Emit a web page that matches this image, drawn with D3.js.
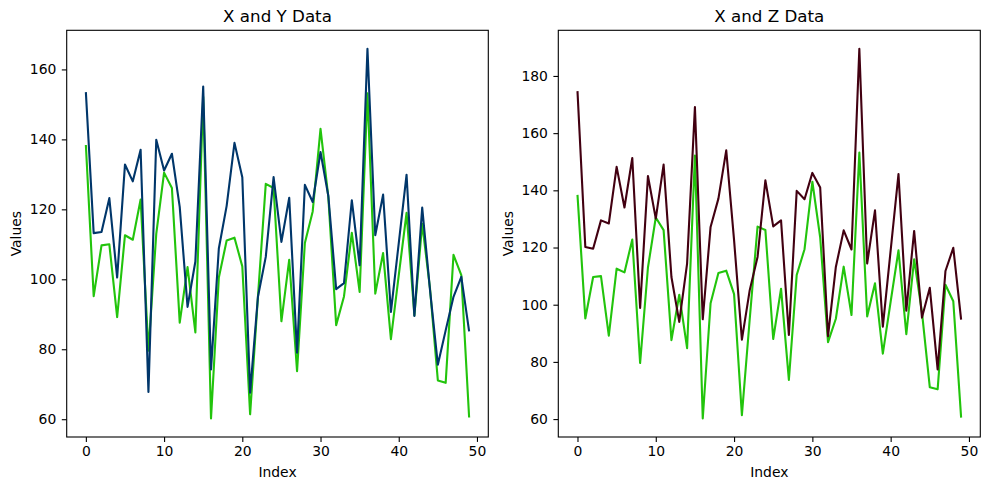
<!DOCTYPE html>
<html>
<head>
<meta charset="utf-8">
<script src="https://cdn.jsdelivr.net/npm/d3@7"></script>
<style>
  html, body { margin: 0; padding: 0; background: #fff; }
  svg { display: block; font-family: "DejaVu Sans", sans-serif; }
</style>
</head>
<body>
<svg id="chart" width="990" height="490"></svg>
<script>
// ---- Data ----
const xValues = [138.4, 95.2, 109.7, 110.0, 89.2, 112.6, 111.3, 122.8, 79.6, 113.0,
  130.5, 126.1, 87.6, 103.5, 84.8, 152.2, 60.2, 100.5, 111.1, 111.9,
  103.7, 61.4, 95.0, 127.3, 126.1, 88.0, 105.6, 73.7, 110.4, 119.4,
  143.0, 123.5, 86.9, 95.1, 113.3, 96.4, 153.2, 95.9, 107.5, 82.9,
  101.1, 119.0, 89.7, 115.9, 97.3, 71.1, 70.4, 107.0, 101.2, 60.5];
const yValues = [153.5, 113.2, 113.5, 123.2, 100.5, 132.8, 128.0, 137.0, 67.8, 139.9,
  131.1, 135.9, 120.7, 92.1, 105.1, 155.1, 74.2, 108.8, 121.0, 139.0,
  129.2, 67.6, 95.0, 106.4, 129.2, 110.7, 123.3, 79.0, 127.0, 122.1,
  136.4, 123.8, 97.2, 98.9, 122.6, 104.0, 165.9, 112.6, 124.2, 90.7,
  110.3, 129.9, 89.5, 120.5, 96.9, 75.6, 85.4, 95.0, 100.7, 85.1];
const zValues = [174.7, 120.2, 119.6, 129.5, 128.4, 148.2, 134.0, 151.3, 98.9, 145.0,
  130.1, 149.0, 109.7, 94.0, 114.4, 169.1, 94.9, 127.2, 137.1, 154.0,
  122.6, 87.8, 105.1, 116.7, 143.5, 127.4, 129.5, 89.4, 139.8, 136.9,
  146.1, 141.0, 89.0, 113.2, 126.0, 119.3, 189.5, 114.4, 133.0, 92.3,
  119.0, 145.7, 97.9, 125.8, 95.5, 105.9, 77.4, 111.8, 119.9, 94.8];
const xTicks = [0, 10, 20, 30, 40, 50];
const yTicksLeft = [60, 80, 100, 120, 140, 160];
const yTicksRight = [60, 80, 100, 120, 140, 160, 180];
const titles = ["X and Y Data", "X and Z Data"];
const colors = { x: "#22c40c", y: "#00366a", z: "#420011" };

// ---- Layout ----
const panels = [
  { left: 66.7, right: 488.3, title: titles[0], series: [[xValues, colors.x], [yValues, colors.y]], yTicks: yTicksLeft, ylabX: 21 },
  { left: 558.3, right: 980.3, title: titles[1], series: [[xValues, colors.x], [zValues, colors.z]], yTicks: yTicksRight, ylabX: 513 }
];
const plotTop = 30.3, plotBottom = 437;
const svg = d3.select("#chart");

panels.forEach(p => {
  const n = xValues.length;
  const xm = (n - 1) * 0.05;
  const x = d3.scaleLinear().domain([-xm, n - 1 + xm]).range([p.left, p.right]);
  const all = p.series.flatMap(s => s[0]);
  const lo = d3.min(all), hi = d3.max(all), pad = (hi - lo) * 0.05;
  const y = d3.scaleLinear().domain([lo - pad, hi + pad]).range([plotBottom, plotTop]);

  const g = svg.append("g");
  const line = d3.line().x((d, i) => x(i)).y(d => y(d));
  p.series.forEach(([vals, col]) => {
    g.append("path").datum(vals)
      .attr("fill", "none").attr("stroke", col)
      .attr("stroke-width", 2.1).attr("stroke-linejoin", "round").attr("stroke-linecap", "butt")
      .attr("d", line);
  });

  // axes
  const xa = g.append("g").attr("transform", `translate(0,${plotBottom})`)
    .call(d3.axisBottom(x).tickValues(xTicks).tickSize(4.9).tickPadding(4.5).tickFormat(d3.format("d")));
  const ya = g.append("g").attr("transform", `translate(${p.left},0)`)
    .call(d3.axisLeft(y).tickValues(p.yTicks).tickSize(4.9).tickPadding(5.5).tickFormat(d3.format("d")));
  [xa, ya].forEach(a => {
    a.select(".domain").remove();
    a.selectAll("line").attr("stroke", "#000").attr("stroke-width", 1.1);
    a.selectAll("text").attr("fill", "#000").style("font-size", "13.9px").style("font-family", "DejaVu Sans");
  });

  // frame
  g.append("rect").attr("x", p.left).attr("y", plotTop)
    .attr("width", p.right - p.left).attr("height", plotBottom - plotTop)
    .attr("fill", "none").attr("stroke", "#000").attr("stroke-width", 1.1);

  // title
  g.append("text").attr("x", (p.left + p.right) / 2).attr("y", 22)
    .attr("text-anchor", "middle").style("font-size", "16.7px").attr("fill", "#000")
    .text(p.title);
  // x label
  g.append("text").attr("x", (p.left + p.right) / 2).attr("y", 476.5)
    .attr("text-anchor", "middle").style("font-size", "13.9px").attr("fill", "#000")
    .text("Index");
  // y label
  g.append("text")
    .attr("transform", `translate(${p.ylabX},${(plotTop + plotBottom) / 2}) rotate(-90)`)
    .attr("text-anchor", "middle").style("font-size", "13.9px").attr("fill", "#000")
    .text("Values");
});
</script>
</body>
</html>
